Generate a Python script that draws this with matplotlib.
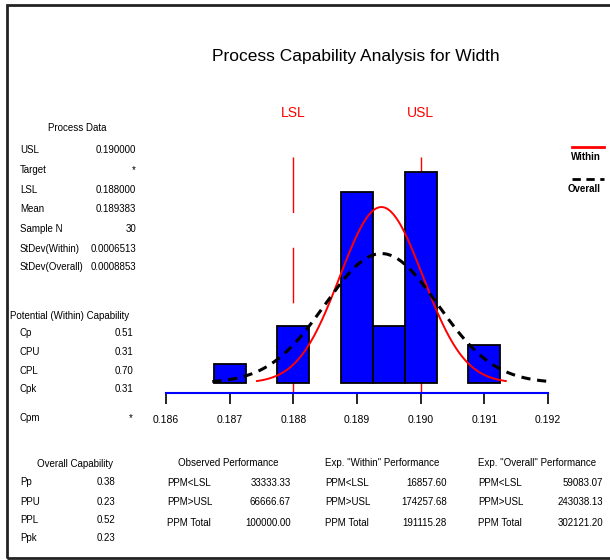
import numpy as np
import matplotlib
matplotlib.use('Agg')
import matplotlib.pyplot as plt
from matplotlib.patches import Rectangle

# data
bin_centers = [0.187, 0.1875, 0.188, 0.1885, 0.189, 0.1895, 0.190, 0.1905, 0.191]
bin_counts = [1, 0, 3, 0, 10, 3, 11, 0, 2]
bin_width = 0.0005
lsl = 0.188
usl = 0.190
mean = 0.189383
sd_within = 0.0006513
sd_overall = 0.0008853
n = 30
xticks = [0.186, 0.187, 0.188, 0.189, 0.190, 0.191, 0.192]
xtick_labels = ['0.186', '0.187', '0.188', '0.189', '0.190', '0.191', '0.192']

process_labels = ['USL', 'Target', 'LSL', 'Mean', 'Sample N', 'StDev(Within)', 'StDev(Overall)']
process_values = ['0.190000', '*', '0.188000', '0.189383', '30', '0.0006513', '0.0008853']
within_labels = ['Cp', 'CPU', 'CPL', 'Cpk', 'Cpm']
within_values = ['0.51', '0.31', '0.70', '0.31', '*']
overall_labels = ['Pp', 'PPU', 'PPL', 'Ppk']
overall_values = ['0.38', '0.23', '0.52', '0.23']
ppm_labels = ['PPM<LSL', 'PPM>USL', 'PPM Total']
observed_ppm = ['33333.33', '66666.67', '100000.00']
exp_within_ppm = ['16857.60', '174257.68', '191115.28']
exp_overall_ppm = ['59083.07', '243038.13', '302121.20']

W, H = 610, 560
plt.rcParams['font.family'] = ['Liberation Sans', 'DejaVu Sans']

fig = plt.figure(figsize=(W / 100, H / 100), dpi=100)

def fx(px):
    return px / W

def fy(py):
    return 1 - py / H

def txt(px, py, s, ha='left', size=7, **kw):
    fig.text(fx(px), fy(py), s, ha=ha, va='center', fontsize=size, **kw)

# outer frame (runs off the right edge like the reference)
fig.patches.append(Rectangle((fx(7), fy(558)), fx(620) - fx(7), fy(5) - fy(558),
                             transform=fig.transFigure, fill=False, lw=2, ec='#222222'))

# histogram area: 0.186..0.192 over px 166..548, count 0 at px 383, 19.15 px per count
ppc = 19.15
ax_top, ax_bot = 100, 393
ax = fig.add_axes([fx(166), fy(ax_bot), fx(548) - fx(166), fy(ax_top) - fy(ax_bot)])
ax.set_xlim(0.186, 0.192)
ax.set_ylim(-(ax_bot - 383) / ppc, (383 - ax_top) / ppc)

centers = np.array(bin_centers)
counts = np.array(bin_counts)
keep = counts > 0
ax.bar(centers[keep], counts[keep], width=bin_width, color='#0000ff',
       edgecolor='black', linewidth=1.3, zorder=2)

for sd, style in [(sd_within, dict(color='red', lw=1.4)),
                  (sd_overall, dict(color='black', lw=2.2, dashes=(3, 2.2)))]:
    xs = np.linspace(mean - 3 * sd, mean + 3 * sd, 200)
    ys = n * bin_width * np.exp(-0.5 * ((xs - mean) / sd) ** 2) / (sd * np.sqrt(2 * np.pi))
    ax.plot(xs, ys, zorder=3, **style)

for spec, name in [(lsl, 'LSL'), (usl, 'USL')]:
    ax.plot([spec, spec], [(383 - 157) / ppc, -(405 - 383) / ppc], color='red', lw=1,
            dashes=(40, 25), zorder=1, clip_on=False)
    ax.text(spec, (383 - 113) / ppc, name, color='red', ha='center', va='center', fontsize=10)

for s in ['top', 'right', 'left']:
    ax.spines[s].set_visible(False)
ax.spines['bottom'].set_color('#0000ff')
ax.spines['bottom'].set_linewidth(1.5)
ax.set_yticks([])
ax.set_xticks(xticks)
ax.set_xticklabels(xtick_labels, fontsize=7.5)
ax.tick_params(axis='x', length=8, width=1.2, color='black', pad=8)

# legend at the right edge
fig.lines.append(plt.Line2D([fx(572), fx(604)], [fy(147), fy(147)], color='red', lw=2,
                            transform=fig.transFigure))
txt(571, 157, 'Within', size=7, weight='bold')
fig.lines.append(plt.Line2D([fx(572), fx(604)], [fy(179), fy(179)], color='black', lw=2,
                            dashes=(3, 2), transform=fig.transFigure))
txt(568, 189, 'Overall', size=7, weight='bold')

# title
txt(356, 57, 'Process Capability Analysis for Width', ha='center', size=12.5)

# process data
txt(77, 128, 'Process Data', ha='center')
for i, (lab, val) in enumerate(zip(process_labels, process_values)):
    y = [150, 170, 190, 209, 229, 249, 267][i]
    txt(20, y, lab)
    txt(136, y, val, ha='right')

txt(10, 316, 'Potential (Within) Capability')
for i, (lab, val) in enumerate(zip(within_labels, within_values)):
    y = [333, 352, 371, 389, 418][i]
    txt(20, y, lab)
    txt(133, y, val, ha='right')

txt(75, 464, 'Overall Capability', ha='center')
for i, (lab, val) in enumerate(zip(overall_labels, overall_values)):
    y = [482, 502, 520, 538][i]
    txt(20, y, lab)
    txt(115, y, val, ha='right')

rows_y = [483, 502, 523]
txt(228, 463, 'Observed Performance', ha='center')
txt(325, 463, 'Exp. "Within" Performance')
txt(478, 463, 'Exp. "Overall" Performance')
for i, lab in enumerate(ppm_labels):
    txt(167, rows_y[i], lab)
    txt(291, rows_y[i], observed_ppm[i], ha='right')
    txt(325, rows_y[i], lab)
    txt(447, rows_y[i], exp_within_ppm[i], ha='right')
    txt(478, rows_y[i], lab)
    txt(603, rows_y[i], exp_overall_ppm[i], ha='right')

fig.savefig('out.png', dpi=100)
